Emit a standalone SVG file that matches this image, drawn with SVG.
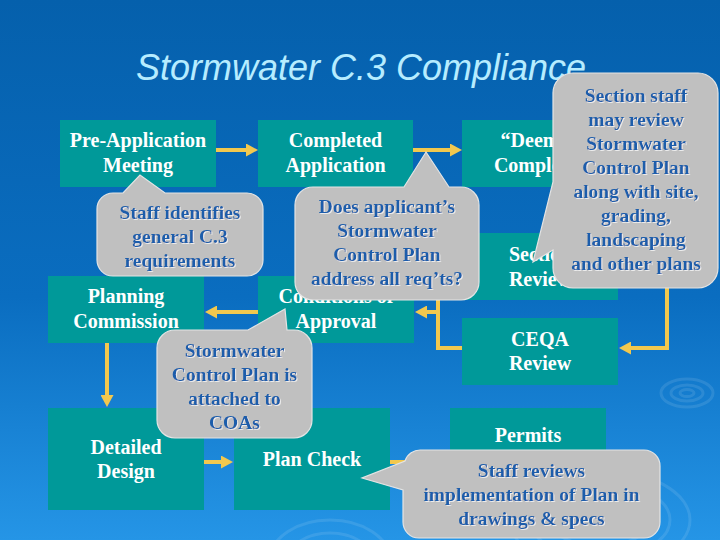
<svg xmlns="http://www.w3.org/2000/svg" width="720" height="540" viewBox="0 0 720 540">
<defs>
<linearGradient id="bg" x1="0" y1="0" x2="0" y2="1">
<stop offset="0" stop-color="#0560ac"/>
<stop offset="0.55" stop-color="#0a6dc0"/>
<stop offset="1" stop-color="#2595e6"/>
</linearGradient>
<marker id="ah" markerUnits="userSpaceOnUse" markerWidth="12" markerHeight="13" viewBox="0 0 12 13" refX="1" refY="6.5" orient="auto">
<path d="M0,0 L12,6.5 L0,13 Z" fill="#f2c84e"/>
</marker>
<filter id="sh" x="-5%" y="-5%" width="110%" height="120%">
<feDropShadow dx="1" dy="1" stdDeviation="0.3" flood-color="#ffffff" flood-opacity="0.7"/>
</filter>
<style>
.box{fill:#009999}
.bt{font-family:"Liberation Serif","Times New Roman",serif;font-weight:bold;font-size:20px;fill:#ffffff;text-anchor:middle}
.co{fill:#c0c0c0;stroke:#e4e4e4;stroke-width:1.2}
.ct{font-family:"Liberation Serif","Times New Roman",serif;font-weight:bold;font-size:19.5px;fill:#1d5dab;text-anchor:middle;filter:url(#sh)}
.ar{fill:none;stroke:#f2c84e;stroke-width:4}
.rp{fill:none;stroke:#ffffff;stroke-opacity:0.1;stroke-width:3}
</style>
</defs>
<rect x="0" y="0" width="720" height="540" fill="url(#bg)"/>
<g id="ripples">
<ellipse class="rp" cx="687" cy="393" rx="26" ry="14"/>
<ellipse class="rp" cx="687" cy="393" rx="16" ry="8"/>
<ellipse class="rp" cx="687" cy="393" rx="7" ry="3.5"/>
<ellipse class="rp" cx="600" cy="520" rx="90" ry="50"/>
<ellipse class="rp" cx="600" cy="520" rx="70" ry="38"/>
<ellipse class="rp" cx="600" cy="520" rx="50" ry="26"/>
<ellipse class="rp" cx="330" cy="560" rx="60" ry="40"/>
<ellipse class="rp" cx="330" cy="560" rx="42" ry="27"/>
</g>
<text x="361" y="80" font-family="'Liberation Sans',Arial,sans-serif" font-style="italic" font-size="36" fill="#b6ecff" text-anchor="middle">Stormwater C.3 Compliance</text>

<g id="connectors">
<path class="ar" d="M216,150 H247" marker-end="url(#ah)"/>
<path class="ar" d="M413,150 H451" marker-end="url(#ah)"/>
<path class="ar" d="M617,150 H667 V348 H630" marker-end="url(#ah)"/>
<path class="ar" d="M462,266 H438 V348 H462"/>
<path class="ar" d="M438,312 H426" marker-end="url(#ah)"/>
<path class="ar" d="M258,312 H216" marker-end="url(#ah)"/>
<path class="ar" d="M107,343 V396" marker-end="url(#ah)"/>
<path class="ar" d="M204,462 H222" marker-end="url(#ah)"/>
<path class="ar" d="M390,462 H438" marker-end="url(#ah)"/>
</g>

<g id="pre-application">
<rect class="box" x="60" y="120" width="156" height="67"/>
<text class="bt" x="138" y="147">Pre-Application</text>
<text class="bt" x="138" y="172">Meeting</text>
</g>
<g id="completed-application">
<rect class="box" x="258" y="120" width="155" height="67"/>
<text class="bt" x="335.5" y="147">Completed</text>
<text class="bt" x="335.5" y="172">Application</text>
</g>
<g id="deemed-complete">
<rect class="box" x="462" y="120" width="156" height="67"/>
<text class="bt" x="540" y="147">“Deemed</text>
<text class="bt" x="540" y="172">Complete”</text>
</g>
<g id="section-review">
<rect class="box" x="462" y="233" width="156" height="67"/>
<text class="bt" x="540" y="261">Section</text>
<text class="bt" x="540" y="286">Review</text>
</g>
<g id="planning-commission">
<rect class="box" x="48" y="276" width="156" height="67"/>
<text class="bt" x="126" y="303">Planning</text>
<text class="bt" x="126" y="328">Commission</text>
</g>
<g id="conditions-of-approval">
<rect class="box" x="258" y="276" width="156" height="67"/>
<text class="bt" x="336" y="303">Conditions of</text>
<text class="bt" x="336" y="328">Approval</text>
</g>
<g id="ceqa-review">
<rect class="box" x="462" y="318" width="156" height="67"/>
<text class="bt" x="540" y="346">CEQA</text>
<text class="bt" x="540" y="370">Review</text>
</g>
<g id="detailed-design">
<rect class="box" x="48" y="408" width="156" height="102"/>
<text class="bt" x="126" y="454">Detailed</text>
<text class="bt" x="126" y="478">Design</text>
</g>
<g id="plan-check">
<rect class="box" x="234" y="408" width="156" height="102"/>
<text class="bt" x="312" y="466">Plan Check</text>
</g>
<g id="permits">
<rect class="box" x="450" y="408" width="156" height="102"/>
<text class="bt" x="528" y="442">Permits</text>
</g>

<g id="callout-staff-identifies">
<path class="co" d="M113,193 H123 L140,175 L165,193 H247 A16,16 0 0 1 263,209 V260 A16,16 0 0 1 247,276 H113 A16,16 0 0 1 97,260 V209 A16,16 0 0 1 113,193 Z"/>
<text class="ct" x="180" y="219">Staff identifies</text>
<text class="ct" x="180" y="243">general C.3</text>
<text class="ct" x="180" y="267">requirements</text>
</g>
<g id="callout-does-applicant">
<path class="co" d="M313,187 H404 L426,152 L449,187 H461 A18,18 0 0 1 479,205 V282 A18,18 0 0 1 461,300 H313 A18,18 0 0 1 295,282 V205 A18,18 0 0 1 313,187 Z"/>
<text class="ct" x="387" y="213">Does applicant’s</text>
<text class="ct" x="387" y="237">Stormwater</text>
<text class="ct" x="387" y="261">Control Plan</text>
<text class="ct" x="387" y="285">address all req’ts?</text>
</g>
<g id="callout-section-staff">
<path class="co" d="M573,73 H698 A20,20 0 0 1 718,93 V268 A20,20 0 0 1 698,288 H573 A20,20 0 0 1 553,268 V250 L533,262 L553,182 V93 A20,20 0 0 1 573,73 Z"/>
<text class="ct" x="636" y="102">Section staff</text>
<text class="ct" x="636" y="126">may review</text>
<text class="ct" x="636" y="150">Stormwater</text>
<text class="ct" x="636" y="174">Control Plan</text>
<text class="ct" x="636" y="198">along with site,</text>
<text class="ct" x="636" y="222">grading,</text>
<text class="ct" x="636" y="246">landscaping</text>
<text class="ct" x="636" y="270">and other plans</text>
</g>
<g id="callout-attached">
<path class="co" d="M175,330 H248 L285,309 L287,330 H294 A18,18 0 0 1 312,348 V420 A18,18 0 0 1 294,438 H175 A18,18 0 0 1 157,420 V348 A18,18 0 0 1 175,330 Z"/>
<text class="ct" x="234.5" y="357">Stormwater</text>
<text class="ct" x="234.5" y="381">Control Plan is</text>
<text class="ct" x="234.5" y="405">attached to</text>
<text class="ct" x="234.5" y="429">COAs</text>
</g>
<g id="callout-staff-reviews">
<path class="co" d="M405,461 A16,16 0 0 1 421,450 H644 A16,16 0 0 1 660,466 V522 A16,16 0 0 1 644,538 H419 A16,16 0 0 1 403,522 V490 L362,478 Z"/>
<text class="ct" x="531.5" y="477">Staff reviews</text>
<text class="ct" x="531.5" y="501">implementation of Plan in</text>
<text class="ct" x="531.5" y="525">drawings &amp; specs</text>
</g>
</svg>
